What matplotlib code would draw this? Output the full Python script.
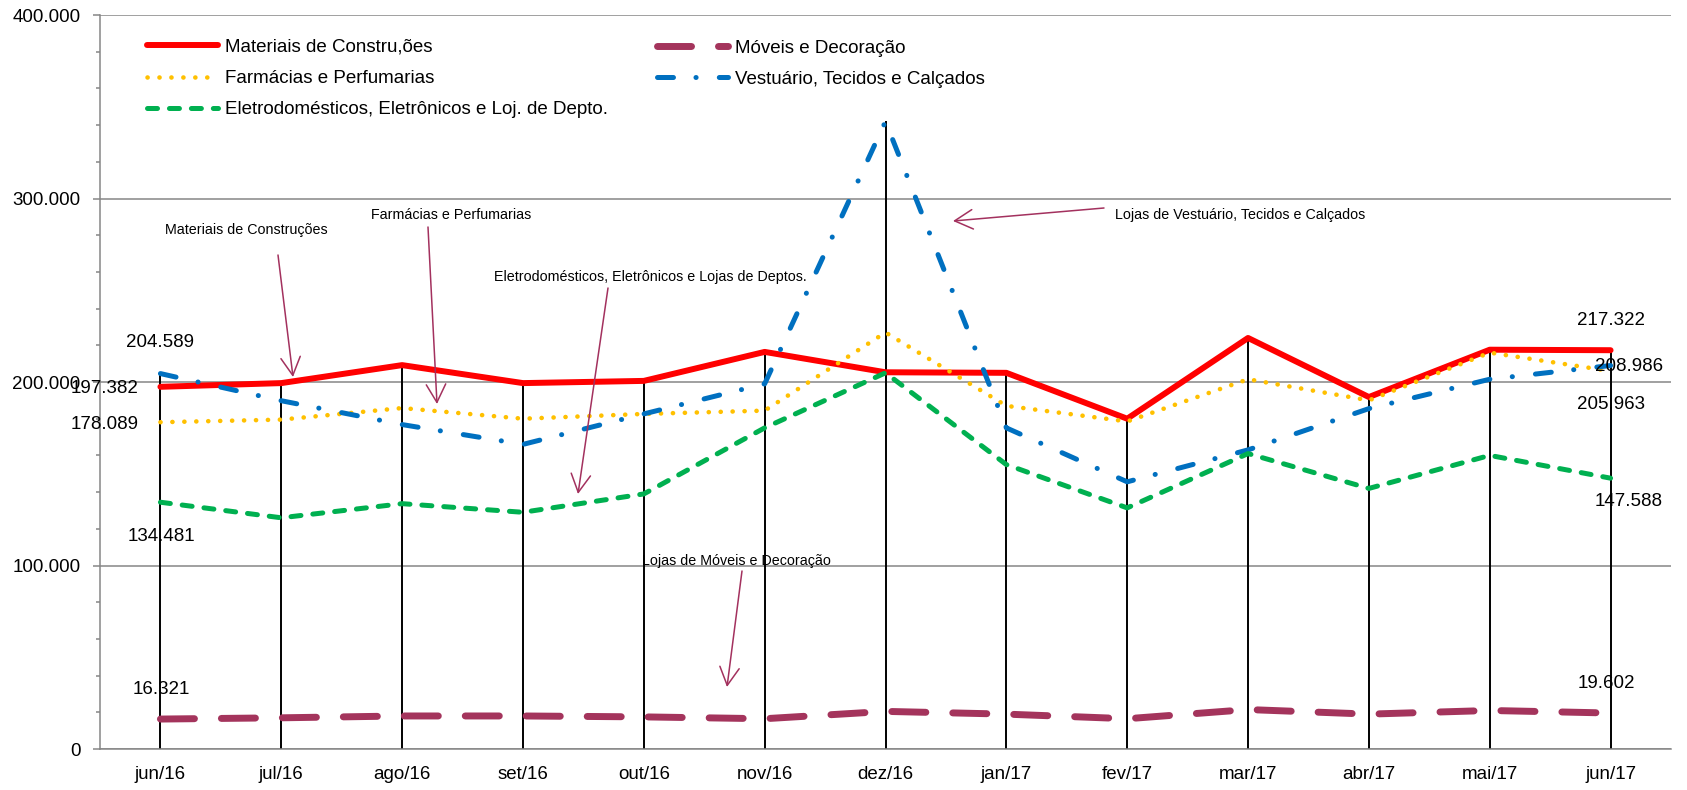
import matplotlib
matplotlib.use('Agg')
import matplotlib.pyplot as plt
import numpy as np
from matplotlib.ticker import MultipleLocator, FuncFormatter

plt.rcParams['font.family'] = ['Liberation Sans', 'DejaVu Sans']
plt.rcParams['lines.scale_dashes'] = False

# dados (mil unidades)
meses = ['jun/16', 'jul/16', 'ago/16', 'set/16', 'out/16', 'nov/16', 'dez/16',
         'jan/17', 'fev/17', 'mar/17', 'abr/17', 'mai/17', 'jun/17']
materiais = [197.382, 199.4, 209.2, 199.4, 200.6, 216.4, 205.3, 205.0, 180.0, 224.0, 191.8, 217.6, 217.322]
moveis = [16.321, 17.0, 18.0, 18.0, 17.5, 16.5, 20.5, 19.0, 16.5, 21.5, 19.0, 21.0, 19.602]
farmacias = [178.089, 179.5, 185.8, 180.0, 182.6, 184.4, 227.0, 187.0, 178.5, 201.5, 190.0, 216.0, 205.963]
vestuario = [204.589, 189.8, 176.8, 166.0, 182.6, 199.0, 342.0, 175.0, 145.6, 163.0, 185.5, 201.5, 208.986]
eletro = [134.481, 126.0, 133.7, 129.0, 139.0, 175.0, 205.0, 155.0, 131.4, 161.0, 142.0, 160.0, 147.588]

W, H = 1687, 790
fig = plt.figure(figsize=(W / 100, H / 100), dpi=100)
ax = fig.add_axes([100 / W, 41 / H, 1571 / W, 734 / H])
x = np.arange(len(meses))
cinza = '#868686'

# linhas de queda (do zero ao maior valor)
topo = np.max([materiais, moveis, farmacias, vestuario, eletro], axis=0)
ax.vlines(x, 0, topo, color='black', lw=1.4, zorder=2)

l_mat, = ax.plot(x, materiais, color='#FF0000', lw=4.3, solid_joinstyle='round',
                 solid_capstyle='round', zorder=3, label='Materiais de Constru,ões')
l_mov, = ax.plot(x, moveis, color='#A4345C', lw=5.0, linestyle=(0, (24.5, 19.4)),
                 dash_capstyle='round', zorder=4, label='Móveis e Decoração')
l_far, = ax.plot(x, farmacias, color='#FFC000', lw=3.3, linestyle=(0, (0.1, 8.5)),
                 dash_capstyle='round', zorder=5, label='Farmácias e Perfumarias')
l_ves, = ax.plot(x, vestuario, color='#0070C0', lw=3.6, linestyle=(0, (11.5, 16.2, 0.1, 16.7)),
                 dash_capstyle='round', zorder=6, label='Vestuário, Tecidos e Calçados')
l_ele, = ax.plot(x, eletro, color='#00B050', lw=3.6, linestyle=(0, (7.2, 8.6)),
                 dash_capstyle='round', zorder=7, label='Eletrodomésticos, Eletrônicos e Loj. de Depto.')

ax.set_xlim(-0.5, len(meses) - 0.5)
ax.set_ylim(0, 400)
ax.yaxis.set_major_locator(MultipleLocator(100))
ax.yaxis.set_minor_locator(MultipleLocator(20))
ax.yaxis.set_major_formatter(FuncFormatter(lambda v, p: '0' if v == 0 else f'{v:.3f}'))
ax.set_xticks(x, meses)
ax.tick_params(axis='x', length=0, pad=12, labelsize=13.5)
ax.tick_params(axis='y', which='major', length=4.8, color=cinza, width=1.1, pad=9.4, labelsize=13.5)
ax.tick_params(axis='y', which='minor', length=3.2, color=cinza, width=1.1)
ax.yaxis.grid(True, color=cinza, lw=1.1)
ax.set_axisbelow(True)
for s in ['top', 'right']:
    ax.spines[s].set_visible(False)
for s in ['left', 'bottom']:
    ax.spines[s].set_color(cinza)
    ax.spines[s].set_linewidth(1.1)

# legenda em duas colunas
leg_kw = dict(loc='center left', frameon=False, borderpad=0, borderaxespad=0,
              handlelength=3.8, handletextpad=0.35, fontsize=13.5, labelspacing=0.75)
leg1 = fig.legend([l_mat, l_far, l_ele], [l_mat.get_label(), l_far.get_label(), l_ele.get_label()],
                  bbox_to_anchor=(147 / W, 1 - 78.5 / H), **leg_kw)
leg2 = fig.legend([l_mov, l_ves], [l_mov.get_label(), l_ves.get_label()],
                  bbox_to_anchor=(657 / W, 1 - 63.6 / H), **leg_kw)

# rótulos de dados no início e no fim
def rotulo(serie, i, dx, dy, ha='center'):
    ax.annotate(f'{serie[i]:.3f}', xy=(i, serie[i]), xytext=(dx, dy), textcoords='offset points',
                ha=ha, va='center', fontsize=13.5, zorder=10)

rotulo(vestuario, 0, 0, 22.3)
rotulo(materiais, 0, -16, -1, ha='right')
rotulo(farmacias, 0, -16, -1.3, ha='right')
rotulo(eletro, 0, 1, -24.5)
rotulo(moveis, 0, 1, 21.6)
rotulo(materiais, 12, 0, 21.6)
rotulo(vestuario, 12, 13, -1)
rotulo(farmacias, 12, 0, -23.8)
rotulo(eletro, 12, 13, -16.6)
rotulo(moveis, 12, -3, 21.6)

# chamadas com setas
cor_seta = '#A3315E'
def px(a, b):
    return (a, H - b)

chamadas = [
    ('Materiais de Construções', (246, 230), (278, 255), (293, 377)),
    ('Farmácias e Perfumarias', (451, 215), (428, 227), (437, 404)),
    ('Eletrodomésticos, Eletrônicos e Lojas de Deptos.', (650, 277), (608, 288), (578, 494)),
    ('Lojas de Vestuário, Tecidos e Calçados', (1240, 215), (1104, 208), (953, 221)),
    ('Lojas de Móveis e Decoração', (736, 561), (742, 571), (727, 687)),
]
for txt, pos, ini, fim in chamadas:
    fig.text(pos[0] / W, 1 - pos[1] / H, txt, fontsize=10.3, ha='center', va='center', zorder=10)
    ax.annotate('', xy=px(*fim), xycoords='figure pixels', xytext=px(*ini), textcoords='figure pixels',
                arrowprops=dict(arrowstyle='->,head_length=1.3,head_width=0.7', color=cor_seta,
                                lw=1.1, mutation_scale=10, shrinkA=0, shrinkB=0), zorder=10)

fig.savefig('out.png', dpi=100)
